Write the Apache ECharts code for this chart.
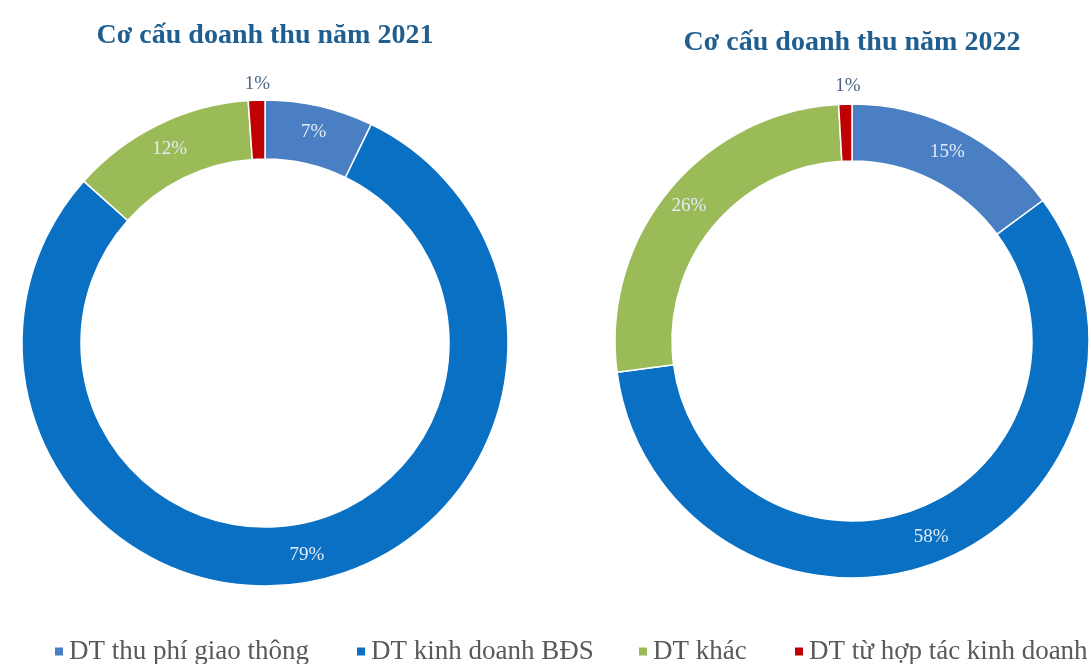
<!DOCTYPE html>
<html>
<head>
<meta charset="utf-8">
<script src="https://cdn.jsdelivr.net/npm/echarts@6/dist/echarts.min.js"></script>
<style>
html,body{margin:0;padding:0;background:#fff;}
#chart{width:1091px;height:664px;}
</style>
</head>
<body>
<div id="chart"></div>
<script>
// ---- data ----
const categories = ['DT thu phí giao thông', 'DT kinh doanh BĐS', 'DT khác', 'DT từ hợp tác kinh doanh'];
const values2021 = [7.2, 79.4, 12.3, 1.1];
const values2022 = [14.9, 58.0, 26.2, 0.9];
const titles = ['Cơ cấu doanh thu năm 2021', 'Cơ cấu doanh thu năm 2022'];

// ---- styles ----
const colors = ['#4a7fc3', '#0a70c4', '#9bbb59', '#c00000'];
const serif = '"Liberation Serif", "Times New Roman", serif';

function buildData(vals) {
  return vals.map((v, i) => {
    const item = { name: categories[i], value: v };
    if (i === 3) {
      item.label = { color: '#4a6584' };
    }
    return item;
  });
}

function pieSeries(vals, center, radius, dy, dx) {
  return {
    type: 'pie',
    center: center,
    radius: radius,
    startAngle: 90,
    clockwise: true,
    avoidLabelOverlap: false,
    itemStyle: { borderColor: '#ffffff', borderWidth: 1.5 },
    label: {
      show: true,
      position: 'inside',
      fontFamily: serif,
      fontSize: 19,
      color: '#e3ebf6',
      formatter: p => Math.round(p.percent) + '%'
    },
    labelLine: { show: false },
    labelLayout: function (params) {
      if (params.dataIndex === 3) return { dy: dy, dx: dx };
      return {};
    },
    emphasis: { disabled: true },
    data: buildData(vals)
  };
}

const chart = echarts.init(document.getElementById('chart'), null, { renderer: 'canvas' });

const legendLefts = [53, 355, 637, 793];
const legends = categories.map((c, i) => ({
  data: [c],
  left: legendLefts[i],
  top: 638,
  orient: 'horizontal',
  icon: 'rect',
  itemWidth: 10,
  itemHeight: 10,
  padding: 0,
  selectedMode: false,
  textStyle: { fontFamily: serif, fontSize: 27, color: '#595959' }
}));

chart.setOption({
  backgroundColor: '#ffffff',
  color: colors,
  animation: false,
  title: [
    {
      text: titles[0], left: 265, top: 22, textAlign: 'center', padding: 0,
      textStyle: { fontFamily: serif, fontWeight: 'bold', fontSize: 28, color: '#1f5e8f' }
    },
    {
      text: titles[1], left: 852, top: 29, textAlign: 'center', padding: 0,
      textStyle: { fontFamily: serif, fontWeight: 'bold', fontSize: 28, color: '#1f5e8f' }
    }
  ],
  legend: legends,
  series: [
    pieSeries(values2021, [265, 343], [184, 243], -43, 0),
    pieSeries(values2022, [852, 341], [180, 237], -44, 2)
  ]
});
</script>
</body>
</html>
